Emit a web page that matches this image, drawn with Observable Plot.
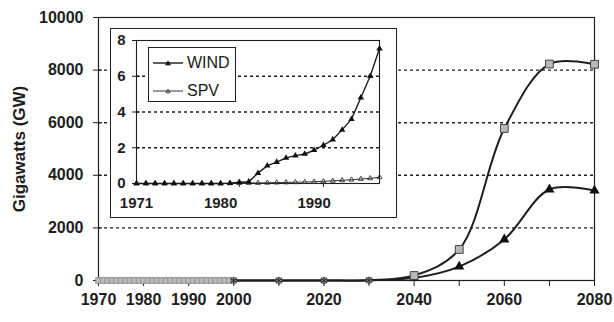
<!DOCTYPE html>
<html>
<head>
<meta charset="utf-8">
<script src="https://cdn.jsdelivr.net/npm/d3@7"></script>
<script src="https://cdn.jsdelivr.net/npm/@observablehq/plot@0.6"></script>
<style>
  html, body { margin: 0; padding: 0; background: #fff; }
  #wrap { position: relative; width: 614px; height: 322px; overflow: hidden; font-family: "Liberation Sans", Arial, sans-serif; }
  #inset { position: absolute; left: 110px; top: 28px; width: 287px; height: 190px; }
  #insetBorder { position: absolute; left: 110px; top: 28px; width: 287px; height: 190px; box-sizing: border-box; border: 1.5px solid #222; pointer-events: none; }
  #legend { position: absolute; left: 148px; top: 47px; width: 88px; height: 55px; box-sizing: border-box; border: 1.2px solid #222; background: #fff; }
  .lrow { position: absolute; left: 4px; height: 20px; display: flex; align-items: center; font-size: 16px; color: #1a1a1a; }
  .lrow svg { margin-right: 4px; }
</style>
</head>
<body>
<div id="wrap">
  <div id="main"></div>
  <div id="inset"></div>
  <div id="insetBorder"></div>
  <div id="legend"></div>
</div>
<script>
// ---------- Main chart data ----------
const mainYears = [1970,1971,1972,1973,1974,1975,1976,1977,1978,1979,1980,1981,1982,1983,1984,1985,1986,1987,1988,1989,1990,1991,1992,1993,1994,1995,1996,1997,1998,1999,2000,2010,2020,2030,2040,2050,2060,2070,2080];
const squareSeries = [0,0,0,0,0,0,0,0,0,0,0,0,0,0,0,0,0,0,0,0,0,0,0,0,0,0,0,0,0,0,0,0,0,10,190,1180,5780,8230,8220];
const triangleSeries = [0,0,0,0,0,0,0,0,0,0,0,0,0,0,0,0,0,0,0,0,0,0,0,0,0,0,0,0,0,0,0,0,0,8,100,530,1560,3460,3420];
const yTicks = [0,2000,4000,6000,8000,10000];
const gridValues = [2000,4000,6000,8000];
const xTickYears = [1970,1980,1990,2000,2010,2020,2030,2040,2050,2060,2070,2080];
const xLabelYears = [1970,1980,1990,2000,2020,2040,2060,2080];
const yTitle = "Gigawatts (GW)";

// ---------- Inset data ----------
const insetYears = [1971,1972,1973,1974,1975,1976,1977,1978,1979,1980,1981,1982,1983,1984,1985,1986,1987,1988,1989,1990,1991,1992,1993,1994,1995,1996,1997];
const windValues = [0,0,0,0,0,0,0,0,0,0,0.02,0.07,0.1,0.58,1.0,1.2,1.43,1.56,1.65,1.86,2.14,2.46,3.0,3.6,4.8,6.0,7.55];
const spvValues = [0,0,0,0,0,0,0,0,0,0,0.01,0.02,0.03,0.03,0.04,0.05,0.06,0.07,0.08,0.1,0.12,0.15,0.18,0.21,0.25,0.29,0.35];
const insetYTicks = [0,2,4,6,8];
const insetGrid = [2,4,6];
const insetXLabels = [1971,1980,1990];
const insetTickMarks = [1982,1991];
const legendItems = ["WIND","SPV"];

const mainData = mainYears.map((year, i) => ({year, sq: squareSeries[i], tri: triangleSeries[i], early: year < 2000, zeroRun: year >= 2000 && year <= 2030}));
const insetData = insetYears.map((year, i) => ({year, wind: windValues[i], spv: spvValues[i]}));

const font = "'Liberation Sans', Arial, sans-serif";
const ink = "#1e1e1e";

const main = Plot.plot({
  width: 614,
  height: 322,
  marginLeft: 98,
  marginRight: 20,
  marginTop: 17,
  marginBottom: 42,
  style: {fontFamily: font, fontSize: "16px", fontWeight: "bold", color: ink, background: "#fff", overflow: "visible"},
  x: {domain: [1970, 2080]},
  y: {domain: [0, 10000]},
  marks: [
    Plot.gridY(gridValues, {stroke: ink, strokeOpacity: 1, strokeWidth: 1.4, strokeDasharray: "3,3"}),
    Plot.frame({stroke: ink, strokeWidth: 1.2}),
    Plot.axisY({ticks: yTicks, tickSize: 5, tickPadding: 10, tickFormat: d => String(d), label: null, stroke: ink, fontSize: 16}),
    Plot.axisY({ticks: yTicks, tickSize: 4, tickFormat: () => "", label: null, dx: 4, stroke: ink}),
    Plot.axisX({ticks: xTickYears, tickSize: 6, tickPadding: 7, tickFormat: d => xLabelYears.includes(d) ? String(d) : "", label: null, stroke: ink, fontSize: 16}),
    Plot.text([yTitle], {frameAnchor: "left", textAnchor: "middle", dx: -79, rotate: -90, fontSize: 17, fontWeight: "bold", fill: ink}),
    Plot.line(mainData, {x: "year", y: "sq", curve: "catmull-rom", stroke: ink, strokeWidth: 2}),
    Plot.line(mainData, {x: "year", y: "tri", curve: "catmull-rom", stroke: ink, strokeWidth: 2}),
    Plot.dot(mainData.filter(d => d.early), {x: "year", y: "tri", symbol: "triangle", r: 2.6, fill: "#888", stroke: "none"}),
    Plot.dot(mainData.filter(d => d.early), {x: "year", y: "sq", symbol: "square", r: 3.2, fill: "#bbb", stroke: "#888", strokeWidth: 0.8}),
    Plot.dot(mainData.filter(d => d.zeroRun), {x: "year", y: "sq", symbol: "square", r: 3, fill: "#aaa", stroke: "#555", strokeWidth: 0.8}),
    Plot.dot(mainData.filter(d => d.zeroRun), {x: "year", y: "tri", symbol: "asterisk", r: 3.5, stroke: "#222", strokeWidth: 1}),
    Plot.dot(mainData.filter(d => !d.early && !d.zeroRun), {x: "year", y: "tri", symbol: "triangle", r: 3.8, fill: "#111", stroke: "none"}),
    Plot.dot(mainData.filter(d => !d.early && !d.zeroRun), {x: "year", y: "sq", symbol: "square", r: 4.4, fill: "#b8b8b8", stroke: "#444", strokeWidth: 1})
  ]
});
document.getElementById("main").appendChild(main);

const inset = Plot.plot({
  width: 287,
  height: 190,
  marginLeft: 26,
  marginRight: 18,
  marginTop: 12,
  marginBottom: 35,
  style: {fontFamily: font, fontSize: "15px", fontWeight: "bold", color: ink, background: "#fff", overflow: "visible"},
  x: {domain: [1971, 1997]},
  y: {domain: [0, 8]},
  marks: [
    Plot.gridY(insetGrid, {stroke: ink, strokeOpacity: 1, strokeWidth: 1.4, strokeDasharray: "3,3"}),
    Plot.frame({stroke: ink, strokeWidth: 1.1}),
    Plot.axisY({ticks: insetYTicks, tickSize: 4, tickPadding: 7, tickFormat: d => String(d), label: null, stroke: ink, fontSize: 15}),
    Plot.axisY({ticks: insetYTicks, tickSize: 4, tickFormat: () => "", label: null, dx: 4, stroke: ink}),
    Plot.axisX({ticks: insetXLabels, tickSize: 0, tickPadding: 14, tickFormat: d => String(d), label: null, fontSize: 15}),
    Plot.axisX({ticks: insetTickMarks, tickSize: 4, tickFormat: () => "", label: null, stroke: ink}),
    Plot.line(insetData, {x: "year", y: "spv", stroke: "#333", strokeWidth: 1}),
    Plot.dot(insetData, {x: "year", y: "spv", symbol: "triangle", r: 1.8, fill: "none", stroke: "#333", strokeWidth: 0.9}),
    Plot.line(insetData, {x: "year", y: "wind", stroke: ink, strokeWidth: 1.4}),
    Plot.dot(insetData, {x: "year", y: "wind", symbol: "triangle", r: 2.4, fill: "#111", stroke: "none"})
  ]
});
document.getElementById("inset").appendChild(inset);

// Legend
const legend = document.getElementById("legend");
legendItems.forEach((name, i) => {
  const row = document.createElement("div");
  row.className = "lrow";
  row.style.top = (i === 0 ? 5 : 33) + "px";
  const solid = i === 0;
  row.innerHTML =
    `<svg width="30" height="10" viewBox="0 0 30 10">
      <line x1="0" y1="5" x2="30" y2="5" stroke="${solid ? ink : '#333'}" stroke-width="${solid ? 1.4 : 1}"/>
      <path d="${solid ? 'M15,2.2 L18,7.2 L12,7.2 Z' : 'M15,3.2 L17.2,6.8 L12.8,6.8 Z'}" fill="${solid ? '#111' : 'none'}" stroke="${solid ? 'none' : '#333'}" stroke-width="0.9"/>
    </svg><span>${name}</span>`;
  legend.appendChild(row);
});
</script>
</body>
</html>
